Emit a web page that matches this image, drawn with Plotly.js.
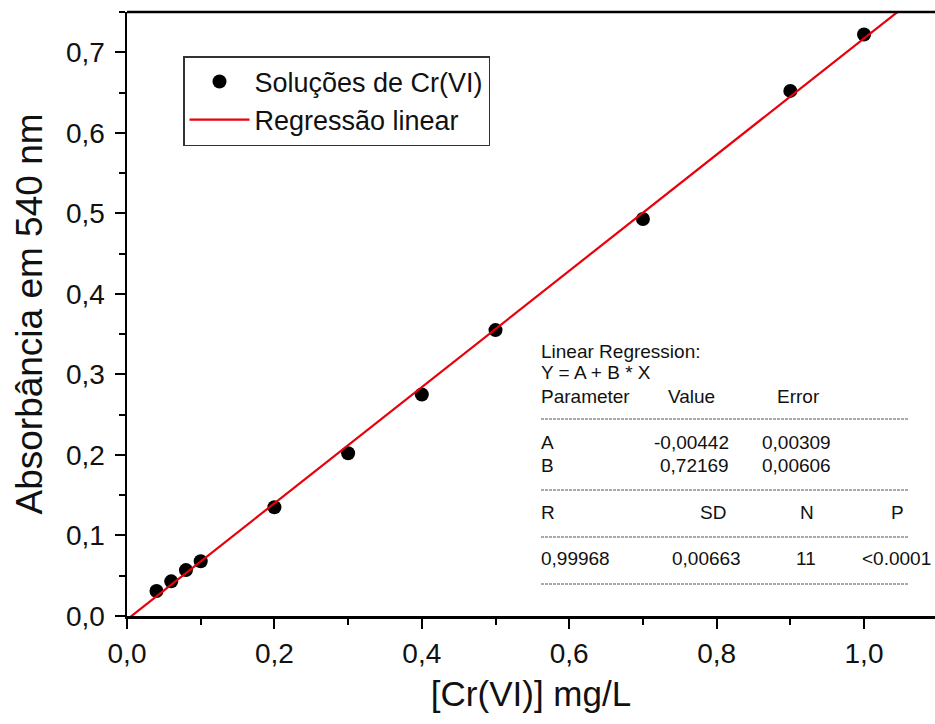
<!DOCTYPE html>
<html>
<head>
<meta charset="utf-8">
<script src="https://cdn.plot.ly/plotly-3.0.1.min.js"></script>
<style>
  html, body { margin: 0; padding: 0; background: #fff; overflow: hidden; }
  #chart { width: 935px; height: 724px; }
</style>
</head>
<body>
<div id="chart"></div>
<script>
// ---- data ----
const concCr = [0.04, 0.06, 0.08, 0.10, 0.20, 0.30, 0.40, 0.50, 0.70, 0.90, 1.00];
const absorbance = [0.031, 0.043, 0.057, 0.068, 0.135, 0.202, 0.275, 0.355, 0.493, 0.652, 0.722];
const fitX = [0.0, 1.1];
const fitY = [-0.0044, 0.7894];
const seriesNames = ["Soluções de Cr(VI)", "Regressão linear"];
const xTitle = "[Cr(VI)] mg/L";
const yTitle = "Absorbância em 540 nm";
const statsHead = ["Linear Regression:", "Y = A + B * X"];
const paramHeader = ["Parameter", "Value", "Error"];
const paramNames = ["A", "B"];
const paramValues = ["-0,00442", "0,72169"];
const paramErrors = ["0,00309", "0,00606"];
const fitHeader = ["R", "SD", "N", "P"];
const fitStats = ["0,99968", "0,00663", "11", "<0.0001"];

// ---- layout geometry (pixels) ----
const W = 935, H = 724;
const M = {l: 127, r: 0, t: 12, b: 108};
const xRange = [0, 1.0963];
const yRange = [0, 0.75];
const pw = W - M.l - M.r, ph = H - M.t - M.b;
function px2x(px) { return xRange[0] + (px - M.l) / pw * (xRange[1] - xRange[0]); }
function py2y(py) { return yRange[0] + (H - M.b - py) / ph * (yRange[1] - yRange[0]); }

const FONT = "Liberation Sans, Arial, sans-serif";
const tf = {family: FONT, size: 19, color: "#111"};

const annotations = [];
function txt(text, px, py, anchor) {
  annotations.push({
    text: text, x: px2x(px), y: py2y(py), xref: "x", yref: "y",
    xanchor: anchor || "left", yanchor: "middle", showarrow: false, font: tf
  });
}
txt(statsHead[0], 539, 351);
txt(statsHead[1], 539, 372);
txt(paramHeader[0], 539, 396);
txt(paramHeader[1], 666, 396);
txt(paramHeader[2], 775, 396);
txt(paramNames[0], 539, 442);
txt(paramValues[0], 731, 442, "right");
txt(paramErrors[0], 760, 442);
txt(paramNames[1], 539, 465);
txt(paramValues[1], 731, 465, "right");
txt(paramErrors[1], 760, 465);
txt(fitHeader[0], 539, 512);
txt(fitHeader[1], 728, 512, "right");
txt(fitHeader[2], 816, 512, "right");
txt(fitHeader[3], 906, 512, "right");
txt(fitStats[0], 539, 558);
txt(fitStats[1], 743, 558, "right");
txt(fitStats[2], 818, 558, "right");
txt(fitStats[3], 933, 558, "right");

const shapes = [];
[419, 490, 537, 584].forEach(function (py) {
  shapes.push({type: "line", xref: "x", yref: "y",
    x0: px2x(541), x1: px2x(908), y0: py2y(py), y1: py2y(py),
    line: {color: "#555", width: 1, dash: "3px,1px"}});
});
// top frame line
shapes.push({type: "line", xref: "paper", yref: "paper", x0: 0, x1: 1, y0: 1, y1: 1,
  line: {color: "#000", width: 2.5}});

const traces = [
  {
    x: concCr, y: absorbance, type: "scatter", mode: "markers", name: seriesNames[0],
    marker: {color: "#000", size: 14, symbol: "circle"}, cliponaxis: false
  },
  {
    x: fitX, y: fitY, type: "scatter", mode: "lines", name: seriesNames[1],
    line: {color: "#e8000b", width: 2.2}
  }
];

const axisCommon = {
  showline: true, linecolor: "#000", linewidth: 2.5, mirror: false,
  ticks: "outside", ticklen: 10, tickwidth: 2, tickcolor: "#000",
  showgrid: false, zeroline: false, tickformat: ".1f",
  tickfont: {family: FONT, size: 28, color: "#111"}
};

const layout = {
  width: W, height: H,
  margin: M,
  paper_bgcolor: "#fff", plot_bgcolor: "#fff",
  separators: ",.",
  showlegend: true,
  legend: {
    x: (183 - M.l) / pw, y: (H - M.b - 56) / ph, xanchor: "left", yanchor: "top",
    bgcolor: "#fff", bordercolor: "#333", borderwidth: 1.5,
    font: {family: FONT, size: 27, color: "#111"},
    itemwidth: 60
  },
  xaxis: Object.assign({}, axisCommon, {
    range: xRange, tick0: 0, dtick: 0.2,
    minor: {dtick: 0.1, ticks: "outside", ticklen: 6, tickwidth: 2, tickcolor: "#000"},
    ticklabelstandoff: 1,
    title: {text: xTitle, font: {family: FONT, size: 35, color: "#111"}, standoff: 14}
  }),
  yaxis: Object.assign({}, axisCommon, {
    range: yRange, tick0: 0, dtick: 0.1,
    minor: {dtick: 0.05, ticks: "outside", ticklen: 6, tickwidth: 2, tickcolor: "#000"},
    ticklabelstandoff: 4,
    title: {text: yTitle, font: {family: FONT, size: 37, color: "#111"}, standoff: 12}
  }),
  annotations: annotations,
  shapes: shapes
};

Plotly.newPlot("chart", traces, layout, {displayModeBar: false, staticPlot: true});
</script>
</body>
</html>
